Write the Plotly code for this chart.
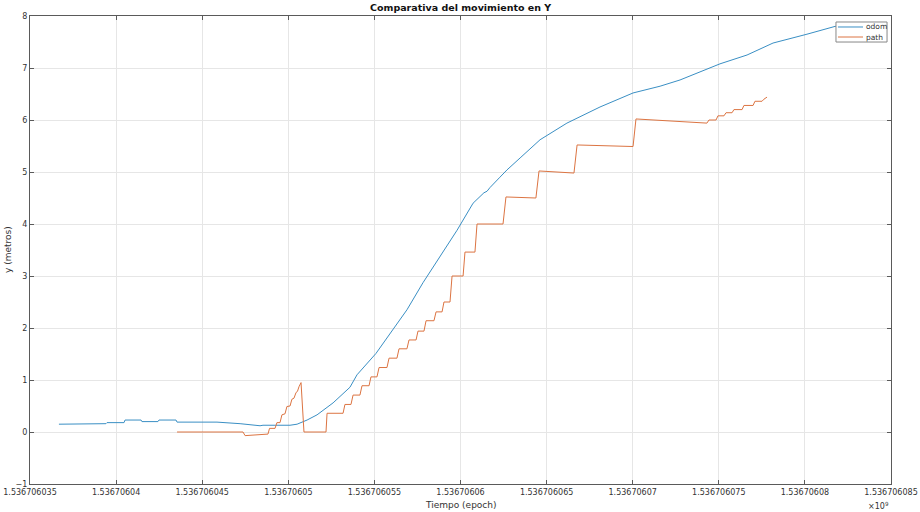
import plotly.graph_objects as go

T0 = 1536706035  # epoch base (s)

# odom: time offset (s from T0) and y (m)
odom_t = [1.68, 4.41, 4.47, 5.46, 5.52, 6.45, 6.50, 7.43, 7.49, 8.48, 8.54, 10.86,
          12.20, 13.36, 13.53, 14.34, 15.10, 15.51, 16.09, 16.67, 17.60, 18.58,
          18.99, 20.09, 20.91, 21.89, 22.82, 23.81, 24.80, 25.73, 26.36, 26.54,
          26.71, 27.29, 27.70, 28.46, 29.62, 31.18, 33.10, 35.02, 36.59, 37.75,
          40.07, 41.64, 43.15, 45.12, 46.75, 48.20]
odom_y = [0.15, 0.16, 0.18, 0.18, 0.23, 0.23, 0.20, 0.20, 0.23, 0.23, 0.19, 0.19,
          0.16, 0.12, 0.13, 0.13, 0.13, 0.15, 0.23, 0.33, 0.56, 0.86,
          1.10, 1.51, 1.90, 2.35, 2.87, 3.37, 3.88, 4.40, 4.60, 4.63,
          4.70, 4.90, 5.04, 5.27, 5.62, 5.94, 6.25, 6.52, 6.65, 6.77,
          7.08, 7.25, 7.48, 7.65, 7.80, 7.86]

# path: time offset (s from T0) and y (m)
path_t = [8.54, 12.37, 12.49, 13.82, 13.91, 14.23, 14.34, 14.52, 14.63, 14.81, 14.92,
          15.10, 15.21, 15.33, 15.45, 15.53, 15.62, 15.74, 15.91, 17.19, 17.25,
          18.18, 18.29, 18.64, 18.76, 19.16, 19.28, 19.69, 19.80, 20.15, 20.27,
          20.73, 20.85, 21.31, 21.43, 21.89, 22.01, 22.42, 22.53, 22.88, 23.00,
          23.46, 23.58, 23.93, 24.04, 24.39, 24.51, 25.15, 25.26, 25.84, 25.96,
          27.47, 27.64, 29.38, 29.56, 31.59, 31.77, 35.02, 35.19, 39.31, 39.43,
          39.84, 39.95, 40.30, 40.42, 40.77, 40.88, 41.35, 41.46, 41.99, 42.10,
          42.51, 42.62, 42.80]
path_y = [0.0, 0.0, -0.07, -0.04, 0.07, 0.07, 0.18, 0.18, 0.33, 0.35, 0.49,
          0.50, 0.63, 0.65, 0.76, 0.78, 0.87, 0.95, 0.0, 0.0, 0.36,
          0.36, 0.53, 0.53, 0.71, 0.71, 0.89, 0.89, 1.06, 1.06, 1.24,
          1.24, 1.42, 1.42, 1.60, 1.60, 1.77, 1.77, 1.94, 1.94, 2.14,
          2.14, 2.31, 2.31, 2.50, 2.50, 3.00, 3.00, 3.46, 3.46, 4.00,
          4.00, 4.52, 4.50, 5.02, 4.98, 5.52, 5.49, 6.02, 5.94, 6.00,
          6.00, 6.08, 6.08, 6.14, 6.14, 6.20, 6.20, 6.28, 6.28, 6.36,
          6.36, 6.40, 6.44]

x_tick_offsets = [0, 5, 10, 15, 20, 25, 30, 35, 40, 45, 50]
x_tick_labels = ["1.536706035", "1.53670604", "1.536706045", "1.53670605",
                 "1.536706055", "1.53670606", "1.536706065", "1.53670607",
                 "1.536706075", "1.53670608", "1.536706085"]
y_ticks = [-1, 0, 1, 2, 3, 4, 5, 6, 7, 8]

series_names = ["odom", "path"]
series_colors = ["#3a8fc4", "#dc7442"]

FONT = "DejaVu Sans"
AX = "#5a5a5a"

fig = go.Figure()
fig.add_trace(go.Scatter(x=[T0 + t for t in odom_t], y=odom_y, mode="lines",
                         name=series_names[0], line=dict(color=series_colors[0], width=1)))
fig.add_trace(go.Scatter(x=[T0 + t for t in path_t], y=path_y, mode="lines",
                         name=series_names[1], line=dict(color=series_colors[1], width=1)))

# compact MATLAB-style legend box (top right, inside the axes)
shapes = [dict(type="rect", xref="paper", yref="paper", x0=0.9361, x1=0.9954,
               y0=0.9444, y1=0.9872, fillcolor="white", line=dict(color="#888", width=1),
               layer="above")]
annotations = []
for i, (nm, col) in enumerate(zip(series_names, series_colors)):
    yy = 0.9765 - i * 0.0214
    shapes.append(dict(type="line", xref="paper", yref="paper", x0=0.9384, x1=0.9675,
                       y0=yy, y1=yy, line=dict(color=col, width=1), layer="above"))
    annotations.append(dict(text=nm, xref="paper", yref="paper", x=0.9686, y=yy,
                            xanchor="left", yanchor="middle", showarrow=False,
                            font=dict(size=7.5, color="#333")))

annotations += [
    dict(text="<b>Comparativa del movimiento en Y</b>", xref="paper", yref="paper",
         x=0.5, y=1.0, yshift=1, xanchor="center", yanchor="bottom",
         showarrow=False, font=dict(size=9.5, color="#111")),
    dict(text="Tiempo (epoch)", xref="paper", yref="paper", x=0.5, y=0,
         yshift=-14, xanchor="center", yanchor="top", showarrow=False,
         font=dict(size=9, color="#333")),
    dict(text="y (metros)", xref="paper", yref="paper", x=0, xshift=-22,
         y=0.5, textangle=-90, xanchor="center", yanchor="middle",
         showarrow=False, font=dict(size=9, color="#333")),
    dict(text="×10<sup>9</sup>", xref="paper", yref="paper", x=0.985, y=0,
         yshift=-15, xanchor="center", yanchor="top", showarrow=False,
         font=dict(size=8, color="#333")),
]

fig.update_layout(
    width=920, height=512,
    paper_bgcolor="white", plot_bgcolor="white",
    margin=dict(l=30, r=29, t=16, b=28, autoexpand=False),
    font=dict(family=FONT, size=8, color="#262626"),
    showlegend=False,
    xaxis=dict(range=[T0, T0 + 50], tickvals=[T0 + v for v in x_tick_offsets],
               ticktext=x_tick_labels, showgrid=True, gridcolor="#e6e6e6",
               gridwidth=1, zeroline=False, showline=True, linecolor=AX,
               linewidth=1, mirror="ticks", ticks="inside", ticklen=4,
               tickcolor=AX, tickfont=dict(size=8, color="#333"), automargin=False),
    yaxis=dict(range=[-1, 8], tickvals=y_ticks, showgrid=True, gridcolor="#e6e6e6",
               gridwidth=1, zeroline=False, showline=True, linecolor=AX,
               linewidth=1, mirror="ticks", ticks="inside", ticklen=4,
               tickcolor=AX, tickfont=dict(size=8, color="#333"), automargin=False),
    shapes=shapes,
    annotations=annotations,
)

fig.write_html("out.html", config={"displayModeBar": False},
               post_script="document.body.style.margin='0';document.body.style.overflow='hidden';")
